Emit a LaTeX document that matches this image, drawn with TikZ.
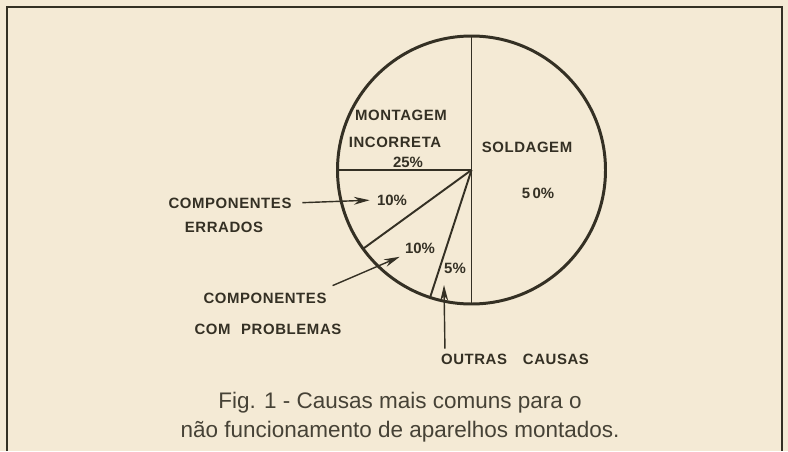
\documentclass[tikz,border=0pt]{standalone}
\usepackage{fontspec}
\setmainfont{Liberation Sans}
\newfontfamily\labelfont[LetterSpace=4]{Liberation Sans}
\usepackage{xcolor}
\usetikzlibrary{arrows.meta, positioning}
\definecolor{paper}{RGB}{244,234,213}
\definecolor{ink}{RGB}{52,48,36}
\definecolor{capink}{RGB}{70,66,54}

\begin{document}
\begin{tikzpicture}[x=0.02cm, y=0.02cm,
  lbl/.style={font=\labelfont\bfseries\fontsize{8.5}{9}\selectfont, text=ink, inner sep=1pt},
  pct/.style={font=\bfseries\fontsize{8.5}{9}\selectfont, text=ink, inner sep=1pt},
  spoke/.style={draw=ink, line width=1.1pt},
  pointer/.style={draw=ink, line width=0.8pt, -{Stealth[length=9pt, width=4.5pt]}}]
\useasboundingbox[fill=paper] (0,0) rectangle (788,451);
\draw[ink, line width=1.2pt] (7,0) -- (7,444) -- (782,444) -- (782,0);
\coordinate (hub) at (471.5,281);
\foreach \a in {90,180,216,252,270}
  \draw[spoke] (hub) -- ++(\a:134);
\draw[ink, line width=1.7pt] (hub) circle (134);
\node[lbl] (mont) at (401,336) {MONTAGEM};
\node[lbl] (inc) at (395,309) {INCORRETA};
\node[pct] (p25) at (408,289) {25\%};
\node[lbl] (sold) at (527,304) {SOLDAGEM};
\node[pct] (p50) at (538,258) {5\,0\%};
\node[pct] (p10a) at (392,251) {10\%};
\node[pct] (p10b) at (420,203) {10\%};
\node[pct] (p5) at (455,183) {5\%};
\node[lbl] (compA) at (230,248) {COMPONENTES};
\node[lbl] (err) at (224,224) {ERRADOS};
\node[lbl] (compB) at (265,153) {COMPONENTES};
\node[lbl] (prob) at (268,122) {COM\hspace{6pt}PROBLEMAS};
\node[lbl] (outr) at (515,92) {OUTRAS\hspace{9pt}CAUSAS};
\coordinate (otip) at (444,166);
\draw[pointer, shorten <=5pt, shorten >=3pt] (compA.east) -- (p10a.west);
\draw[pointer, shorten >=2pt] ([shift={(4,5)}]compB.north east) -- (p10b.south west);
\draw[pointer] ([shift={(6,3)}]outr.north west) -- (otip);
\node[font=\fontsize{12.8}{16.5}\selectfont, text=capink, align=center] (cap) at (400,34)
  {Fig. 1 - Causas mais comuns para o\\não funcionamento de aparelhos montados.};
\end{tikzpicture}
\end{document}
